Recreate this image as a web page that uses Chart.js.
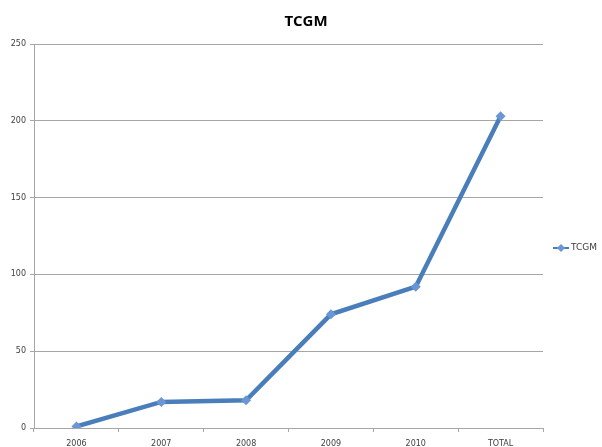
<!DOCTYPE html>
<html>
<head>
<meta charset="utf-8">
<script src="https://cdn.jsdelivr.net/npm/chart.js@4"></script>
<style>
  html, body { margin: 0; padding: 0; background: #fff; }
  #chart { display: block; }
</style>
</head>
<body>
<canvas id="chart" width="602" height="447"></canvas>
<script>
const chartTitle = 'TCGM';
const categories = ['2006', '2007', '2008', '2009', '2010', 'TOTAL'];
const seriesName = 'TCGM';
const tcgmValues = [1, 17, 18, 74, 92, 203];
const yTicks = [0, 50, 100, 150, 200, 250];

const lineColor = '#4a7ebb';
const markerColor = '#6b96d6';
const gridColor = '#a6a6a6';
const labelColor = '#404040';

// title over the whole canvas and legend on the right (line with a diamond)
const titleAndLegend = {
    id: 'titleAndLegend',
    afterDraw(chart) {
        const ctx = chart.ctx;
        const ds = chart.data.datasets[0];
        ctx.save();
        ctx.fillStyle = '#000';
        ctx.font = 'bold 15px "Open Sans"';
        ctx.textAlign = 'center';
        ctx.textBaseline = 'middle';
        ctx.fillText(chartTitle, 306, 22);

        const x = 553, y = 248;
        ctx.strokeStyle = lineColor;
        ctx.lineWidth = 2;
        ctx.beginPath();
        ctx.moveTo(x, y);
        ctx.lineTo(x + 16, y);
        ctx.stroke();
        ctx.fillStyle = markerColor;
        ctx.beginPath();
        ctx.moveTo(x + 8, y - 4);
        ctx.lineTo(x + 12, y);
        ctx.lineTo(x + 8, y + 4);
        ctx.lineTo(x + 4, y);
        ctx.closePath();
        ctx.fill();
        ctx.fillStyle = labelColor;
        ctx.font = '9px "DejaVu Sans"';
        ctx.textAlign = 'left';
        ctx.fillText(ds.label, x + 18, y);
        ctx.restore();
    }
};

const ctx = document.getElementById('chart').getContext('2d');
const tcgmChart = new Chart(ctx, {
    type: 'line',
    data: {
        labels: categories,
        datasets: [{
            label: seriesName,
            data: tcgmValues,
            borderColor: lineColor,
            borderWidth: 4.5,
            backgroundColor: markerColor,
            pointStyle: 'rectRot',
            pointRadius: 5,
            pointBorderWidth: 0,
            pointBackgroundColor: markerColor,
            tension: 0,
            fill: false
        }]
    },
    options: {
        responsive: false,
        animation: false,
        layout: { padding: { left: 0, right: 59, top: 44, bottom: 0 } },
        plugins: {
            legend: { display: false },
            tooltip: { enabled: false },
            title: { display: false }
        },
        scales: {
            x: {
                offset: true,
                grid: {
                    offset: true,
                    drawOnChartArea: false,
                    drawTicks: true,
                    tickLength: 4,
                    color: gridColor
                },
                border: { color: gridColor },
                ticks: {
                    color: labelColor,
                    padding: 7,
                    maxRotation: 0,
                    font: { family: '"DejaVu Sans"', size: 8 }
                },
                afterFit(scale) { scale.height = 19; }
            },
            y: {
                min: 0,
                max: 250,
                afterBuildTicks(scale) { scale.ticks = yTicks.map(v => ({ value: v })); },
                grid: {
                    color: gridColor,
                    tickLength: 4
                },
                border: { color: gridColor },
                ticks: {
                    color: labelColor,
                    padding: 4,
                    font: { family: '"DejaVu Sans"', size: 8 }
                },
                afterFit(scale) { scale.width = 34; }
            }
        }
    },
    plugins: [titleAndLegend]
});
</script>
</body>
</html>
